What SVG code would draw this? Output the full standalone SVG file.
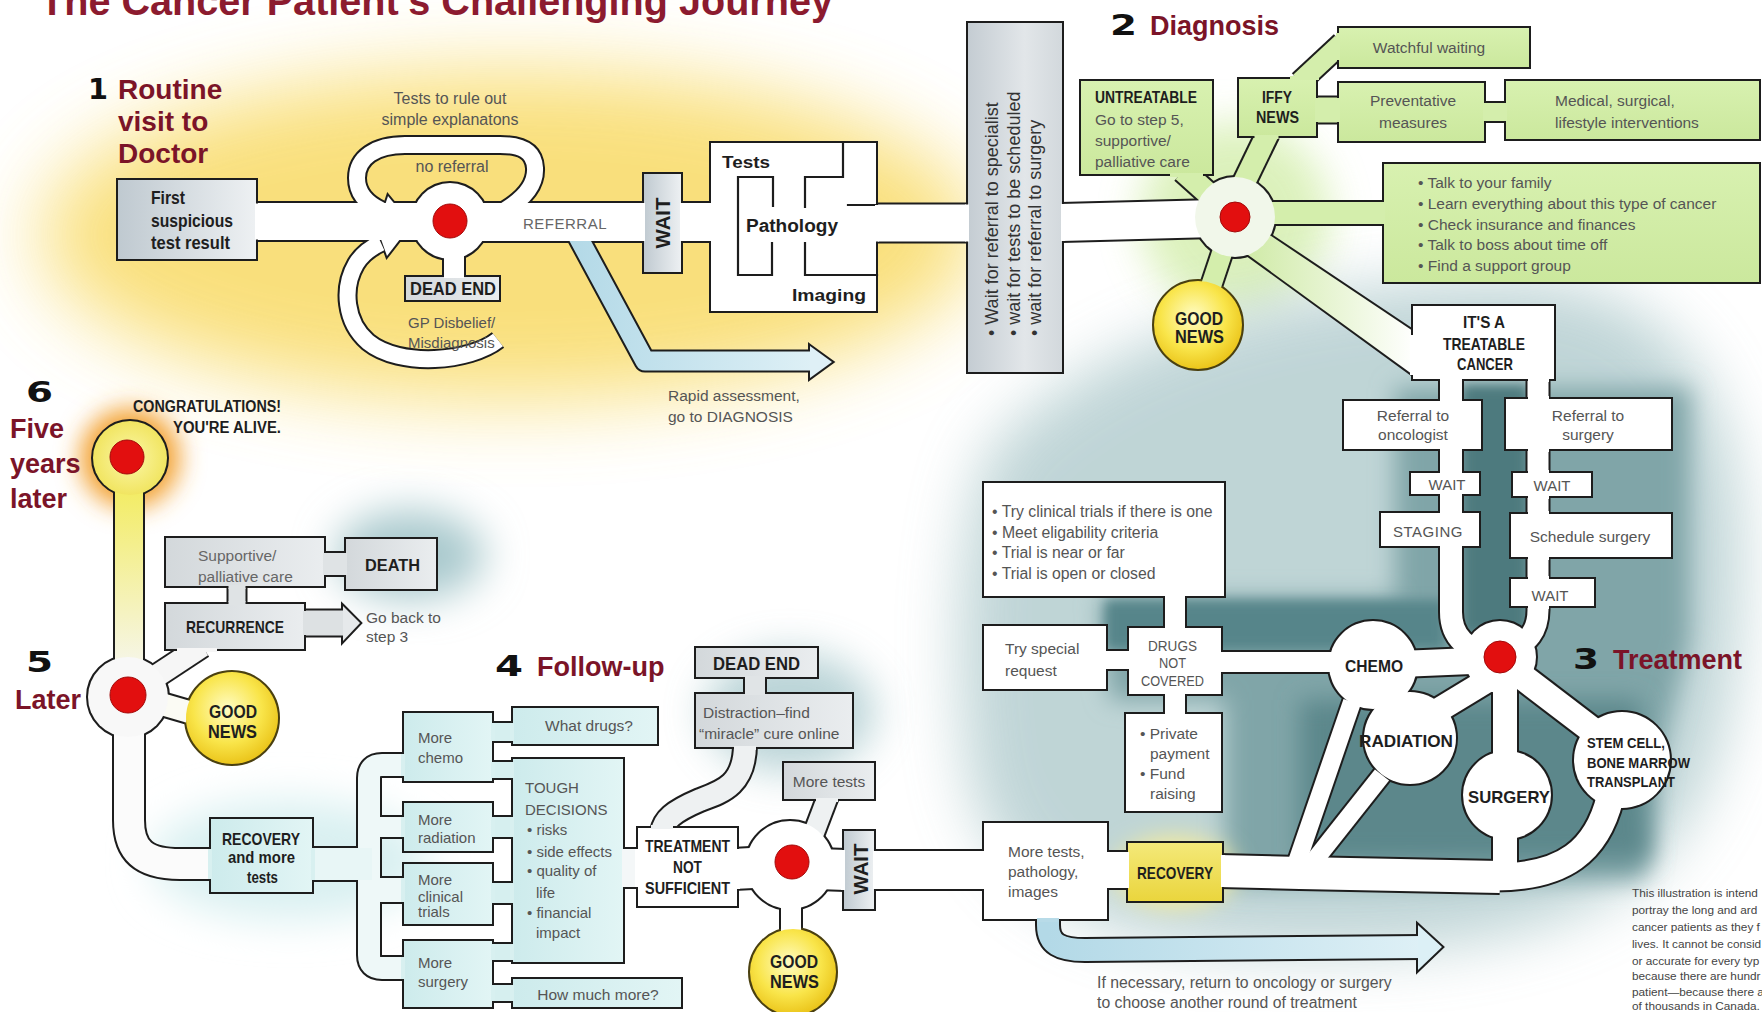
<svg xmlns="http://www.w3.org/2000/svg" width="1762" height="1012" viewBox="0 0 1762 1012">
<style>
text{font-family:"Liberation Sans",Arial,sans-serif}
.h{font-weight:bold;fill:#7b1428}
.n{font-family:"DejaVu Sans","Liberation Sans",sans-serif;font-weight:bold;fill:#111}
.bn{font-weight:bold;fill:#1e1e1e}
.r{fill:#555}
.k{fill:none;stroke:#1d1d1d;stroke-linejoin:round}
.f{fill:none;stroke-linejoin:round}
.bs{stroke:#1d1d1d;stroke-width:2}
.dot{fill:#e20f0f;stroke:#a30a0a;stroke-width:1}
.wl{fill:none;stroke:#1d1d1d;stroke-width:2.2;stroke-linecap:square}
.op{fill:#fff}
.og{fill:#d4eeac}
.oc{fill:#d8f0f0}
</style>
<defs>
<filter id="bl40" x="-50%" y="-50%" width="200%" height="200%"><feGaussianBlur stdDeviation="40"/></filter>
<filter id="bl30" x="-50%" y="-50%" width="200%" height="200%"><feGaussianBlur stdDeviation="30"/></filter>
<filter id="bl20" x="-50%" y="-50%" width="200%" height="200%"><feGaussianBlur stdDeviation="20"/></filter>
<filter id="bl12" x="-50%" y="-50%" width="200%" height="200%"><feGaussianBlur stdDeviation="12"/></filter>
<filter id="bl6" x="-50%" y="-50%" width="200%" height="200%"><feGaussianBlur stdDeviation="6"/></filter>
<linearGradient id="gGray" x1="0" y1="0" x2="1" y2="0"><stop offset="0" stop-color="#bfc9d0"/><stop offset="1" stop-color="#eef1f3"/></linearGradient>
<linearGradient id="gTall" x1="0" y1="0" x2="1" y2="0"><stop offset="0" stop-color="#c4ccd2"/><stop offset=".6" stop-color="#e2e6e9"/><stop offset="1" stop-color="#d2d8dc"/></linearGradient>
<linearGradient id="gLG" x1="0" y1="0" x2="1" y2="0"><stop offset="0" stop-color="#d3d8db"/><stop offset="1" stop-color="#eaedef"/></linearGradient>
<linearGradient id="gGreen" x1="0" y1="0" x2="0" y2="1"><stop offset="0" stop-color="#d8f1b0"/><stop offset="1" stop-color="#cbe89d"/></linearGradient>
<linearGradient id="gCyan" x1="0" y1="0" x2="1" y2="0"><stop offset="0" stop-color="#cdebec"/><stop offset="1" stop-color="#e2f5f5"/></linearGradient>
<linearGradient id="gYel" x1="0" y1="0" x2="0" y2="1"><stop offset="0" stop-color="#f4e97a"/><stop offset="1" stop-color="#ead53c"/></linearGradient>
<radialGradient id="gGood" cx=".45" cy=".4" r=".62"><stop offset="0" stop-color="#fffcc4"/><stop offset=".6" stop-color="#f9e54a"/><stop offset="1" stop-color="#eac318"/></radialGradient>
<radialGradient id="gFive" cx=".5" cy=".5" r=".55"><stop offset="0" stop-color="#fbf7a8"/><stop offset="1" stop-color="#f0e35a"/></radialGradient>
<linearGradient id="gStem" gradientUnits="userSpaceOnUse" x1="0" y1="490" x2="0" y2="670"><stop offset="0" stop-color="#f3ec64"/><stop offset="1" stop-color="#f6f6ec"/></linearGradient>
<linearGradient id="gBlue" x1="0" y1="0" x2="1" y2="0"><stop offset="0" stop-color="#b3d9e7"/><stop offset="1" stop-color="#def0f6"/></linearGradient>
<linearGradient id="gWedge" x1="0" y1="0" x2="1" y2="0"><stop offset="0" stop-color="#cfeaa6"/><stop offset="1" stop-color="#ffffff"/></linearGradient>

<path id="cA" d="M 250 221.5 L 450 221.5"/>
<path id="cB" d="M 450 222 L 645 222"/>
<path id="cC" d="M 680 222 L 715 222"/>
<path id="cD" d="M 870 223 L 969 223"/>
<path id="cE" d="M 1061 222.5 L 1235 218"/>
<path id="lp1" d="M 505 210 C 525 198, 536 185, 535 168 C 534 150, 520 145, 500 145 L 405 145 C 375 145, 357 158, 357 178 C 357 193, 366 203, 381 210"/>
<path id="lp2" d="M 498 340 C 470 362, 400 368, 368 342 C 345 322, 342 288, 356 264 C 362 254, 370 248, 381 243"/>
<path id="cDE" d="M 454 240 L 454 278"/>
<path id="rap" d="M 570 222 L 645 361 L 814 361"/>
<path id="g1" d="M 1222 206 L 1183 171"/>
<path id="g2" d="M 1238 195 L 1268 133"/>
<path id="g3" d="M 1300 82 L 1342 43"/>
<path id="g4" d="M 1314 110 L 1341 110"/>
<path id="g5" d="M 1482 112 L 1508 112"/>
<path id="g6" d="M 1235 213 L 1386 213"/>
<path id="g7" d="M 1228 235 L 1211 286"/>
<polygon id="wedge" points="1262,230 1416,333 1416,377 1244,252"/>
<path id="t1" d="M 1451 374 L 1451 612 C 1451 638, 1468 650, 1490 655"/>
<path id="t2" d="M 1538 374 L 1538 610 C 1538 632, 1527 642, 1512 650"/>
<path id="t3" d="M 1495 660 L 1400 664"/>
<path id="t4" d="M 1218 662 L 1340 662"/>
<path id="t5" d="M 1488 680 L 1432 714"/>
<path id="t6" d="M 1505 680 L 1505 760"/>
<path id="t7" d="M 1505 830 L 1505 878"/>
<path id="t8" d="M 1520 675 L 1592 730"/>
<path id="t9" d="M 1610 798 C 1597 850, 1565 877, 1495 877"/>
<path id="t10" d="M 1219 871 L 1300 873 L 1500 877"/>
<path id="t11" d="M 1352 702 L 1297 862"/>
<path id="t12" d="M 1382 775 L 1310 866"/>
<path id="t13" d="M 1175 592 L 1175 632"/>
<path id="t14" d="M 1102 660 L 1133 660"/>
<path id="t15" d="M 1175 690 L 1175 718"/>
<path id="t16" d="M 1104 870 L 1131 870"/>
<path id="t17" d="M 873 870 L 988 870"/>
<path id="ret" d="M 1048 915 L 1048 925 C 1048 944, 1060 950, 1085 950 L 1422 947"/>
<path id="f1" d="M 733 869 L 790 866"/>
<path id="f2" d="M 790 868 L 846 870"/>
<path id="f3" d="M 621 868 L 642 868"/>
<path id="f4" d="M 745 744 C 745 785, 722 792, 700 800 C 672 812, 664 820, 662 832"/>
<path id="f5" d="M 755 674 L 755 697"/>
<path id="f6" d="M 812 838 L 828 796"/>
<path id="f7" d="M 791 900 L 791 932"/>
<path id="n1" d="M 489 732 L 516 732"/>
<path id="n2" d="M 489 770 L 516 770"/>
<path id="n3" d="M 489 827 L 516 827"/>
<path id="n4" d="M 489 893 L 516 893"/>
<path id="n5" d="M 489 952 L 516 952"/>
<path id="n6" d="M 489 993 L 516 993"/>
<path id="k1" d="M 407 765 L 382 765 Q 369 765 369 778 L 369 955 Q 369 968 382 968 L 407 968"/>
<path id="k3" d="M 369 827 L 407 827"/>
<path id="k4" d="M 369 890 L 407 890"/>
<path id="k0" d="M 310 864 L 372 864"/>
<path id="l1" d="M 129 720 L 129 820 C 129 852, 145 864, 180 864 L 213 864"/>
<path id="l2" d="M 158 703 L 189 712"/>
<path id="l3" d="M 202 646 L 158 675"/>
<path id="stem" d="M 129 488 L 129 668"/>
<path id="s1" d="M 322 564 L 348 564"/>
<path id="s2" d="M 237 584 L 237 606"/>
<path id="s3" d="M 302 623 L 346 623"/>
<circle id="hub1" cx="450" cy="221" r="38"/>
<circle id="hubD" cx="1235" cy="217" r="40"/>
<circle id="hub3" cx="1500" cy="657" r="36"/>
<circle id="hub4" cx="790" cy="865" r="44"/>
<circle id="hubL" cx="128" cy="697" r="40"/>
<circle id="five" cx="130" cy="458" r="37"/>
<circle id="goodD" cx="1198" cy="325" r="44"/>
<circle id="goodL" cx="232" cy="718" r="46"/>
<circle id="good4" cx="793" cy="972" r="43"/>
<circle id="cChemo" cx="1373" cy="665" r="44"/>
<circle id="cRad" cx="1410" cy="738" r="46"/>
<circle id="cSurg" cx="1507" cy="795" r="44"/>
<circle id="cStem" cx="1622" cy="760" r="48"/>
<polygon id="ah1" points="810,346 832,362 810,378"/>
<polygon id="ah2" points="1418,925 1442,947 1418,970"/>
<polygon id="ah3" points="343,606 360,623 343,641"/>
<polygon id="aL1" points="406,218 388,196 379,224"/>
<polygon id="aL2" points="404,234 377,228 387,256"/>
</defs>

<rect width="1762" height="1012" fill="#fff"/>

<g id="glows">
<ellipse cx="510" cy="235" rx="470" ry="165" fill="#f8d85c" opacity="0.8" filter="url(#bl40)"/>
<circle cx="1235" cy="217" r="95" fill="#d6efb0" opacity="0.85" filter="url(#bl20)"/>
<path d="M 990 450 C 1100 330, 1300 280, 1500 280 C 1700 280, 1750 420, 1740 600 C 1730 800, 1680 930, 1400 950 C 1150 965, 1000 920, 970 780 C 950 650, 960 520, 990 450 Z" fill="#b0cbcd" opacity="0.8" filter="url(#bl30)"/>
<path d="M 1100 598 L 1395 598 L 1395 388 L 1690 388 L 1690 640 L 1660 760 L 1645 880 L 1225 885 L 1225 700 L 1110 700 Z" fill="#80a5a8" filter="url(#bl12)"/>
<rect x="1462" y="385" width="66" height="250" fill="#4d7a7e" filter="url(#bl6)"/>
<path d="M 1105 600 L 1445 600 L 1445 650 L 1105 650 Z" fill="#56858a" filter="url(#bl6)"/>
<path d="M 1300 700 L 1640 700 L 1650 860 L 1300 862 Z" fill="#5b878b" filter="url(#bl12)"/>
<ellipse cx="410" cy="555" rx="75" ry="45" fill="#a9c9cd" filter="url(#bl20)"/>
<ellipse cx="790" cy="712" rx="85" ry="60" fill="#a9c9cd" opacity="0.8" filter="url(#bl20)"/>
<ellipse cx="290" cy="860" rx="140" ry="60" fill="#d9f0f1" filter="url(#bl20)"/>
<ellipse cx="1175" cy="872" rx="60" ry="35" fill="#f7ec9a" filter="url(#bl12)"/>
<circle cx="130" cy="458" r="50" fill="#f3a233" filter="url(#bl12)"/>
</g>

<g id="connectors">
<g id="walls">
<use href="#cA" class="k" stroke-width="41"/>
<use href="#cB" class="k" stroke-width="42"/>
<use href="#cC" class="k" stroke-width="42"/>
<use href="#cD" class="k" stroke-width="41"/>
<use href="#cE" class="k" stroke-width="41"/>
<use href="#lp1" class="k" stroke-width="20"/>
<use href="#lp2" class="k" stroke-width="20"/>
<use href="#cDE" class="k" stroke-width="24"/>
<use href="#rap" class="k" stroke-width="23"/>
<use href="#g1" class="k" stroke-width="26"/>
<use href="#g2" class="k" stroke-width="26"/>
<use href="#g3" class="k" stroke-width="24"/>
<use href="#g4" class="k" stroke-width="29"/>
<use href="#g5" class="k" stroke-width="22"/>
<use href="#g6" class="k" stroke-width="26"/>
<use href="#g7" class="k" stroke-width="24"/>
<use href="#wedge" fill="#1d1d1d" stroke="#1d1d1d" stroke-width="4"/>
<use href="#t1" class="k" stroke-width="26"/>
<use href="#t2" class="k" stroke-width="25"/>
<use href="#t3" class="k" stroke-width="30"/>
<use href="#t4" class="k" stroke-width="24"/>
<use href="#t5" class="k" stroke-width="28"/>
<use href="#t6" class="k" stroke-width="28"/>
<use href="#t7" class="k" stroke-width="28"/>
<use href="#t8" class="k" stroke-width="30"/>
<use href="#t9" class="k" stroke-width="31"/>
<use href="#t10" class="k" stroke-width="36"/>
<use href="#t11" class="k" stroke-width="22"/>
<use href="#t12" class="k" stroke-width="22"/>
<use href="#t13" class="k" stroke-width="24"/>
<use href="#t14" class="k" stroke-width="22"/>
<use href="#t15" class="k" stroke-width="24"/>
<use href="#t16" class="k" stroke-width="40"/>
<use href="#t17" class="k" stroke-width="42"/>
<use href="#ret" class="k" stroke-width="26"/>
<use href="#f1" class="k" stroke-width="44"/>
<use href="#f2" class="k" stroke-width="44"/>
<use href="#f3" class="k" stroke-width="42"/>
<use href="#f4" class="k" stroke-width="26"/>
<use href="#f5" class="k" stroke-width="24"/>
<use href="#f6" class="k" stroke-width="24"/>
<use href="#f7" class="k" stroke-width="24"/>
<use href="#n1" class="k" stroke-width="22"/>
<use href="#n2" class="k" stroke-width="20"/>
<use href="#n3" class="k" stroke-width="24"/>
<use href="#n4" class="k" stroke-width="24"/>
<use href="#n5" class="k" stroke-width="20"/>
<use href="#n6" class="k" stroke-width="20"/>
<use href="#k1" class="k" stroke-width="26"/>
<use href="#k3" class="k" stroke-width="24"/>
<use href="#k4" class="k" stroke-width="28"/>
<use href="#k0" class="k" stroke-width="36"/>
<use href="#l1" class="k" stroke-width="34"/>
<use href="#l2" class="k" stroke-width="26"/>
<use href="#l3" class="k" stroke-width="26"/>
<use href="#stem" class="k" stroke-width="32"/>
<use href="#s1" class="k" stroke-width="26"/>
<use href="#s2" class="k" stroke-width="21"/>
<use href="#s3" class="k" stroke-width="29"/>
<use href="#hub1" fill="#1d1d1d" stroke="#1d1d1d" stroke-width="4"/>
<use href="#hubD" fill="#1d1d1d" stroke="#1d1d1d" stroke-width="4"/>
<use href="#hub3" fill="#1d1d1d" stroke="#1d1d1d" stroke-width="4"/>
<use href="#hub4" fill="#1d1d1d" stroke="#1d1d1d" stroke-width="4"/>
<use href="#hubL" fill="#1d1d1d" stroke="#1d1d1d" stroke-width="4"/>
<use href="#five" fill="#1d1d1d" stroke="#1d1d1d" stroke-width="4"/>
<use href="#goodD" fill="#4a4010" stroke="#4a4010" stroke-width="4"/>
<use href="#goodL" fill="#4a4010" stroke="#4a4010" stroke-width="4"/>
<use href="#good4" fill="#4a4010" stroke="#4a4010" stroke-width="4"/>
<use href="#cChemo" fill="#1d1d1d" stroke="#1d1d1d" stroke-width="4"/>
<use href="#cRad" fill="#1d1d1d" stroke="#1d1d1d" stroke-width="4"/>
<use href="#cSurg" fill="#1d1d1d" stroke="#1d1d1d" stroke-width="4"/>
<use href="#cStem" fill="#1d1d1d" stroke="#1d1d1d" stroke-width="4"/>
<use href="#ah1" fill="#1d1d1d" stroke="#1d1d1d" stroke-width="4"/>
<use href="#ah2" fill="#1d1d1d" stroke="#1d1d1d" stroke-width="4"/>
<use href="#ah3" fill="#1d1d1d" stroke="#1d1d1d" stroke-width="4"/>
<use href="#aL1" fill="#1d1d1d" stroke="#1d1d1d" stroke-width="4"/>
<use href="#aL2" fill="#1d1d1d" stroke="#1d1d1d" stroke-width="4"/>
</g>
<g id="lanes">
<use href="#lp1" class="f" stroke="#fff" stroke-width="16"/>
<use href="#lp2" class="f" stroke="#fff" stroke-width="16"/>
<use href="#rap" class="f" stroke="url(#gBlue)" stroke-width="19"/>
<use href="#ah1" fill="#dff0f6"/>
<use href="#cDE" class="f" stroke="#fff" stroke-width="20"/>
<use href="#cA" class="f" stroke="#fff" stroke-width="37"/>
<use href="#cB" class="f" stroke="#fff" stroke-width="38"/>
<use href="#cC" class="f" stroke="#fff" stroke-width="38"/>
<use href="#cD" class="f" stroke="#fff" stroke-width="37"/>
<use href="#cE" class="f" stroke="#fff" stroke-width="37"/>
<use href="#g1" class="f" stroke="#d4eeac" stroke-width="22"/>
<use href="#g2" class="f" stroke="#d4eeac" stroke-width="22"/>
<use href="#g3" class="f" stroke="#d4eeac" stroke-width="20"/>
<use href="#g4" class="f" stroke="#d4eeac" stroke-width="25"/>
<use href="#g5" class="f" stroke="#d4eeac" stroke-width="18"/>
<use href="#g6" class="f" stroke="#d4eeac" stroke-width="22"/>
<use href="#g7" class="f" stroke="#d4eeac" stroke-width="20"/>
<use href="#wedge" fill="url(#gWedge)"/>
<use href="#t1" class="f" stroke="#fff" stroke-width="22"/>
<use href="#t2" class="f" stroke="#fff" stroke-width="21"/>
<use href="#t3" class="f" stroke="#fff" stroke-width="26"/>
<use href="#t4" class="f" stroke="#fff" stroke-width="20"/>
<use href="#t5" class="f" stroke="#fff" stroke-width="24"/>
<use href="#t6" class="f" stroke="#fff" stroke-width="24"/>
<use href="#t7" class="f" stroke="#fff" stroke-width="24"/>
<use href="#t8" class="f" stroke="#fff" stroke-width="26"/>
<use href="#t9" class="f" stroke="#fff" stroke-width="27"/>
<use href="#t11" class="f" stroke="#fff" stroke-width="18"/>
<use href="#t12" class="f" stroke="#fff" stroke-width="18"/>
<use href="#t10" class="f" stroke="#fff" stroke-width="32"/>
<use href="#t13" class="f" stroke="#fff" stroke-width="20"/>
<use href="#t14" class="f" stroke="#fff" stroke-width="18"/>
<use href="#t15" class="f" stroke="#fff" stroke-width="20"/>
<use href="#t16" class="f" stroke="#fff" stroke-width="36"/>
<use href="#t17" class="f" stroke="#fff" stroke-width="38"/>
<use href="#ret" class="f" stroke="url(#gBlue)" stroke-width="22"/>
<use href="#ah2" fill="#dcf0f6"/>
<use href="#f1" class="f" stroke="#fff" stroke-width="40"/>
<use href="#f2" class="f" stroke="#fff" stroke-width="40"/>
<use href="#f3" class="f" stroke="#f4f7f8" stroke-width="38"/>
<use href="#f4" class="f" stroke="#eef1f2" stroke-width="22"/>
<use href="#f5" class="f" stroke="#e0e4e6" stroke-width="20"/>
<use href="#f6" class="f" stroke="#eef1f2" stroke-width="20"/>
<use href="#f7" class="f" stroke="#fff" stroke-width="20"/>
<use href="#n1" class="f" stroke="#d6efef" stroke-width="18"/>
<use href="#n2" class="f" stroke="#d6efef" stroke-width="16"/>
<use href="#n3" class="f" stroke="#d6efef" stroke-width="20"/>
<use href="#n4" class="f" stroke="#d6efef" stroke-width="20"/>
<use href="#n5" class="f" stroke="#d6efef" stroke-width="16"/>
<use href="#n6" class="f" stroke="#d6efef" stroke-width="16"/>
<use href="#k1" class="f" stroke="#eef8f8" stroke-width="22"/>
<use href="#k3" class="f" stroke="#eef8f8" stroke-width="20"/>
<use href="#k4" class="f" stroke="#eef8f8" stroke-width="24"/>
<use href="#k0" class="f" stroke="#e8f6f6" stroke-width="32"/>
<use href="#l1" class="f" stroke="#fbfbfb" stroke-width="30"/>
<use href="#l2" class="f" stroke="#fbfbf4" stroke-width="22"/>
<use href="#l3" class="f" stroke="#f6f6f6" stroke-width="22"/>
<use href="#stem" class="f" stroke="url(#gStem)" stroke-width="28"/>
<use href="#s1" class="f" stroke="#dfe3e5" stroke-width="22"/>
<use href="#s2" class="f" stroke="#dfe3e5" stroke-width="17"/>
<use href="#s3" class="f" stroke="#dde1e3" stroke-width="25"/>
<use href="#ah3" fill="#e6e9eb"/>
<use href="#aL1" fill="#fff"/>
<use href="#aL2" fill="#fff"/>
<use href="#hub1" fill="#fff"/>
<use href="#hubD" fill="#f1f7ea"/>
<use href="#hub3" fill="#fff"/>
<use href="#hub4" fill="#fff"/>
<use href="#hubL" fill="#f8f8f8"/>
<use href="#five" fill="url(#gFive)"/>
<use href="#goodD" fill="url(#gGood)"/>
<use href="#goodL" fill="url(#gGood)"/>
<use href="#good4" fill="url(#gGood)"/>
<use href="#cChemo" fill="#fff"/>
<use href="#cRad" fill="#fff"/>
<use href="#cSurg" fill="#fff"/>
<use href="#cStem" fill="#fff"/>
</g>
</g>

<g id="nodes">
<g id="n-first"><rect x="117" y="179" width="140" height="81" fill="url(#gGray)" class="bs"/>
<text class="bn" font-size="18" x="151" y="204" textLength="34" lengthAdjust="spacingAndGlyphs">First</text>
<text class="bn" font-size="18" x="151" y="227" textLength="82" lengthAdjust="spacingAndGlyphs">suspicious</text>
<text class="bn" font-size="18" x="151" y="249" textLength="79" lengthAdjust="spacingAndGlyphs">test result</text></g>
<g id="n-hub1"><circle class="dot" cx="450" cy="221" r="17"/></g>
<g id="n-dead1"><rect x="405" y="276" width="95" height="25" fill="url(#gLG)" class="bs"/>
<text class="bn" font-size="18" x="410" y="295" textLength="86" lengthAdjust="spacingAndGlyphs">DEAD END</text></g>
<g id="n-wait1"><rect x="643" y="173" width="39" height="100" fill="url(#gGray)" class="bs"/>
<text class="bn" font-size="21" transform="translate(670 248.5) rotate(-90)" textLength="51" lengthAdjust="spacingAndGlyphs">WAIT</text></g>
<g id="n-tests"><rect x="710" y="142" width="167" height="170" fill="#fff" class="bs"/>
<path class="wl" d="M 843 142 L 843 177 L 805 177 L 805 207 M 773 206 L 773 177 L 738 177 L 738 275 L 772 275 L 772 243 M 805 243 L 805 275 L 877 275 M 848 205 L 877 205"/>
<text class="bn" font-size="17" x="722" y="168" textLength="48" lengthAdjust="spacingAndGlyphs">Tests</text>
<text class="bn" font-size="18" x="746" y="232" textLength="92" lengthAdjust="spacingAndGlyphs">Pathology</text>
<text class="bn" font-size="17" x="792" y="301" textLength="74" lengthAdjust="spacingAndGlyphs">Imaging</text></g>
<g id="n-tall"><rect x="967" y="22" width="96" height="351" fill="url(#gTall)" class="bs"/>
<text class="r" font-size="18" style="fill:#333" transform="translate(998 336) rotate(-90)">• Wait for referral to specialist</text>
<text class="r" font-size="18" style="fill:#333" transform="translate(1020 336) rotate(-90)">• wait for tests to be scheduled</text>
<text class="r" font-size="18" style="fill:#333" transform="translate(1041 336) rotate(-90)">• wait for referral to surgery</text></g>

<g id="n-hubD"><circle class="dot" cx="1235" cy="217" r="15"/></g>
<g id="n-untr"><rect x="1080" y="80" width="133" height="95" fill="url(#gGreen)" class="bs"/>
<text class="bn" font-size="16" x="1095" y="103" textLength="102" lengthAdjust="spacingAndGlyphs">UNTREATABLE</text>
<text class="r" font-size="15.5"><tspan x="1095" y="125">Go to step 5,</tspan><tspan x="1095" y="146">supportive/</tspan><tspan x="1095" y="167">palliative care</tspan></text></g>
<g id="n-iffy"><rect x="1238" y="78" width="79" height="59" fill="url(#gGreen)" class="bs"/>
<text class="bn" font-size="16" x="1262" y="103" textLength="30" lengthAdjust="spacingAndGlyphs">IFFY</text>
<text class="bn" font-size="16" x="1256" y="123" textLength="43" lengthAdjust="spacingAndGlyphs">NEWS</text></g>
<g id="n-watch"><rect x="1338" y="27" width="192" height="41" fill="url(#gGreen)" class="bs"/>
<text class="r" font-size="15.5" x="1429" y="53" text-anchor="middle">Watchful waiting</text></g>
<g id="n-prev"><rect x="1338" y="82" width="147" height="60" fill="url(#gGreen)" class="bs"/>
<text class="r" font-size="15.5" text-anchor="middle"><tspan x="1413" y="106">Preventative</tspan><tspan x="1413" y="128">measures</tspan></text></g>
<g id="n-med"><rect x="1505" y="80" width="255" height="60" fill="url(#gGreen)" class="bs"/>
<text class="r" font-size="15.5"><tspan x="1555" y="106">Medical, surgical,</tspan><tspan x="1555" y="128">lifestyle interventions</tspan></text></g>
<g id="n-list"><rect x="1383" y="163" width="377" height="120" fill="url(#gGreen)" class="bs"/>
<text class="r" font-size="15.5"><tspan x="1418" y="188">• Talk to your family</tspan><tspan x="1418" y="209">• Learn everything about this type of cancer</tspan><tspan x="1418" y="230">• Check insurance and finances</tspan><tspan x="1418" y="250">• Talk to boss about time off</tspan><tspan x="1418" y="271">• Find a support group</tspan></text></g>
<g id="n-goodD">
<text class="bn" font-size="19" x="1175" y="325" textLength="48" lengthAdjust="spacingAndGlyphs">GOOD</text>
<text class="bn" font-size="19" x="1175" y="343" textLength="49" lengthAdjust="spacingAndGlyphs">NEWS</text></g>
<g id="n-treat"><rect x="1412" y="305" width="143" height="75" fill="#fff" class="bs"/>
<text class="bn" font-size="17" x="1463" y="328" textLength="42" lengthAdjust="spacingAndGlyphs">IT'S A</text>
<text class="bn" font-size="17" x="1443" y="350" textLength="82" lengthAdjust="spacingAndGlyphs">TREATABLE</text>
<text class="bn" font-size="17" x="1457" y="370" textLength="56" lengthAdjust="spacingAndGlyphs">CANCER</text></g>
<g id="n-refonc"><rect x="1343" y="400" width="139" height="50" fill="#fff" class="bs"/>
<text class="r" font-size="15.5" text-anchor="middle"><tspan x="1413" y="421">Referral to</tspan><tspan x="1413" y="440">oncologist</tspan></text></g>
<g id="n-refsurg"><rect x="1505" y="398" width="167" height="52" fill="#fff" class="bs"/>
<text class="r" font-size="15.5" text-anchor="middle"><tspan x="1588" y="421">Referral to</tspan><tspan x="1588" y="440">surgery</tspan></text></g>
<g id="n-waitl"><rect x="1410" y="472" width="70" height="23" fill="#fff" class="bs"/>
<text class="r" font-size="15" x="1447" y="490" text-anchor="middle">WAIT</text></g>
<g id="n-waitr"><rect x="1512" y="472" width="80" height="25" fill="#fff" class="bs"/>
<text class="r" font-size="15" x="1552" y="491" text-anchor="middle">WAIT</text></g>
<g id="n-staging"><rect x="1380" y="512" width="100" height="35" fill="#fff" class="bs"/>
<text class="r" font-size="15" letter-spacing="0.5" x="1428" y="537" text-anchor="middle">STAGING</text></g>
<g id="n-sched"><rect x="1510" y="513" width="162" height="45" fill="#fff" class="bs"/>
<text class="r" font-size="15.5" x="1590" y="542" text-anchor="middle">Schedule surgery</text></g>
<g id="n-waitlow"><rect x="1510" y="578" width="85" height="29" fill="#fff" class="bs"/>
<text class="r" font-size="15" x="1550" y="601" text-anchor="middle">WAIT</text></g>
<g id="n-hub3"><circle class="dot" cx="1500" cy="657" r="16"/></g>
<g id="n-chemo"><text class="bn" font-size="17" x="1345" y="672" textLength="58" lengthAdjust="spacingAndGlyphs">CHEMO</text></g>
<g id="n-rad"><text class="bn" font-size="17" x="1359" y="747" textLength="94" lengthAdjust="spacingAndGlyphs">RADIATION</text></g>
<g id="n-surg"><text class="bn" font-size="17" x="1468" y="803" textLength="82" lengthAdjust="spacingAndGlyphs">SURGERY</text></g>
<g id="n-stem">
<text class="bn" font-size="15.5" x="1587" y="748" textLength="78" lengthAdjust="spacingAndGlyphs">STEM CELL,</text>
<text class="bn" font-size="15.5" x="1587" y="768" textLength="103" lengthAdjust="spacingAndGlyphs">BONE MARROW</text>
<text class="bn" font-size="15.5" x="1587" y="787" textLength="88" lengthAdjust="spacingAndGlyphs">TRANSPLANT</text></g>
<g id="n-clin"><rect x="983" y="482" width="242" height="115" fill="#fff" class="bs"/>
<text class="r" font-size="15.8"><tspan x="992" y="517">• Try clinical trials if there is one</tspan><tspan x="992" y="538">• Meet eligability criteria</tspan><tspan x="992" y="558">• Trial is near or far</tspan><tspan x="992" y="579">• Trial is open or closed</tspan></text></g>
<g id="n-special"><rect x="983" y="625" width="124" height="65" fill="#fff" class="bs"/>
<text class="r" font-size="15.5"><tspan x="1005" y="654">Try special</tspan><tspan x="1005" y="676">request</tspan></text></g>
<g id="n-drugs"><rect x="1128" y="627" width="94" height="68" fill="#fff" class="bs"/>
<text class="r" font-size="15.5" x="1148" y="651" textLength="49" lengthAdjust="spacingAndGlyphs">DRUGS</text>
<text class="r" font-size="15.5" x="1159" y="668" textLength="27" lengthAdjust="spacingAndGlyphs">NOT</text>
<text class="r" font-size="15.5" x="1141" y="686" textLength="63" lengthAdjust="spacingAndGlyphs">COVERED</text></g>
<g id="n-priv"><rect x="1125" y="713" width="97" height="99" fill="#fff" class="bs"/>
<text class="r" font-size="15.5"><tspan x="1140" y="739">• Private</tspan><tspan x="1150" y="759">payment</tspan><tspan x="1140" y="779">• Fund</tspan><tspan x="1150" y="799">raising</tspan></text></g>
<g id="n-moretests3"><rect x="983" y="822" width="125" height="98" fill="#fff" class="bs"/>
<text class="r" font-size="15.5"><tspan x="1008" y="857">More tests,</tspan><tspan x="1008" y="877">pathology,</tspan><tspan x="1008" y="897">images</tspan></text></g>
<g id="n-recov3"><rect x="1127" y="842" width="96" height="60" fill="url(#gYel)" class="bs"/>
<text class="bn" font-size="17" x="1137" y="879" textLength="76" lengthAdjust="spacingAndGlyphs">RECOVERY</text></g>

<g id="n-hub4"><circle class="dot" cx="792" cy="862" r="17"/></g>
<g id="n-dead4"><rect x="695" y="647" width="123" height="31" fill="url(#gLG)" class="bs"/>
<text class="bn" font-size="18" x="713" y="670" textLength="87" lengthAdjust="spacingAndGlyphs">DEAD END</text></g>
<g id="n-distr"><rect x="695" y="693" width="158" height="55" fill="url(#gLG)" class="bs"/>
<text class="r" font-size="15.5"><tspan x="703" y="718">Distraction–find</tspan><tspan x="699" y="739">“miracle” cure online</tspan></text></g>
<g id="n-moretests4"><rect x="783" y="762" width="92" height="38" fill="url(#gLG)" class="bs"/>
<text class="r" font-size="15.5" x="829" y="787" text-anchor="middle">More tests</text></g>
<g id="n-wait4"><rect x="843" y="830" width="32" height="80" fill="url(#gGray)" class="bs"/>
<text class="bn" font-size="21" transform="translate(868 894.5) rotate(-90)" textLength="51" lengthAdjust="spacingAndGlyphs">WAIT</text></g>
<g id="n-good4">
<text class="bn" font-size="19" x="770" y="968" textLength="48" lengthAdjust="spacingAndGlyphs">GOOD</text>
<text class="bn" font-size="19" x="770" y="988" textLength="49" lengthAdjust="spacingAndGlyphs">NEWS</text></g>
<g id="n-tns"><rect x="637" y="827" width="101" height="80" fill="#fff" class="bs"/>
<text class="bn" font-size="17" x="645" y="852" textLength="85" lengthAdjust="spacingAndGlyphs">TREATMENT</text>
<text class="bn" font-size="17" x="673" y="873" textLength="29" lengthAdjust="spacingAndGlyphs">NOT</text>
<text class="bn" font-size="17" x="645" y="894" textLength="85" lengthAdjust="spacingAndGlyphs">SUFFICIENT</text></g>
<g id="n-tough"><rect x="512" y="758" width="112" height="205" fill="url(#gCyan)" class="bs"/>
<text class="r" font-size="15"><tspan x="525" y="793">TOUGH</tspan><tspan x="525" y="815">DECISIONS</tspan><tspan x="527" y="835">• risks</tspan><tspan x="527" y="857">• side effects</tspan><tspan x="527" y="876">• quality of</tspan><tspan x="536" y="898">life</tspan><tspan x="527" y="918">• financial</tspan><tspan x="536" y="938">impact</tspan></text></g>
<g id="n-what"><rect x="512" y="707" width="146" height="38" fill="url(#gCyan)" class="bs"/>
<text class="r" font-size="15.5" x="589" y="731" text-anchor="middle">What drugs?</text></g>
<g id="n-how"><rect x="512" y="978" width="170" height="30" fill="url(#gCyan)" class="bs"/>
<text class="r" font-size="15.5" x="598" y="1000" text-anchor="middle">How much more?</text></g>
<g id="n-mchemo"><rect x="403" y="712" width="90" height="70" fill="url(#gCyan)" class="bs"/>
<text class="r" font-size="15"><tspan x="418" y="743">More</tspan><tspan x="418" y="763">chemo</tspan></text></g>
<g id="n-mrad"><rect x="403" y="802" width="90" height="50" fill="url(#gCyan)" class="bs"/>
<text class="r" font-size="15"><tspan x="418" y="825">More</tspan><tspan x="418" y="843">radiation</tspan></text></g>
<g id="n-mclin"><rect x="403" y="863" width="90" height="62" fill="url(#gCyan)" class="bs"/>
<text class="r" font-size="15"><tspan x="418" y="885">More</tspan><tspan x="418" y="902">clinical</tspan><tspan x="418" y="917">trials</tspan></text></g>
<g id="n-msurg"><rect x="403" y="940" width="90" height="68" fill="url(#gCyan)" class="bs"/>
<text class="r" font-size="15"><tspan x="418" y="968">More</tspan><tspan x="418" y="987">surgery</tspan></text></g>

<g id="n-recov5"><rect x="210" y="818" width="103" height="75" fill="url(#gCyan)" class="bs"/>
<text class="bn" font-size="17" x="222" y="845" textLength="78" lengthAdjust="spacingAndGlyphs">RECOVERY</text>
<text class="bn" font-size="17" x="228" y="863" textLength="67" lengthAdjust="spacingAndGlyphs">and more</text>
<text class="bn" font-size="17" x="247" y="883" textLength="31" lengthAdjust="spacingAndGlyphs">tests</text></g>
<g id="n-hubL"><circle class="dot" cx="128" cy="695" r="18"/></g>
<g id="n-goodL">
<text class="bn" font-size="19" x="209" y="718" textLength="48" lengthAdjust="spacingAndGlyphs">GOOD</text>
<text class="bn" font-size="19" x="208" y="738" textLength="49" lengthAdjust="spacingAndGlyphs">NEWS</text></g>
<g id="n-supp"><rect x="165" y="537" width="160" height="50" fill="url(#gLG)" class="bs"/>
<text class="r" font-size="15.5" style="fill:#666"><tspan x="198" y="561">Supportive/</tspan><tspan x="198" y="582">palliative care</tspan></text></g>
<g id="n-death"><rect x="345" y="538" width="92" height="52" fill="url(#gLG)" class="bs"/>
<text class="bn" font-size="17" x="365" y="571" textLength="55" lengthAdjust="spacingAndGlyphs">DEATH</text></g>
<g id="n-recur"><rect x="165" y="603" width="140" height="47" fill="url(#gLG)" class="bs"/>
<text class="bn" font-size="17" x="186" y="633" textLength="98" lengthAdjust="spacingAndGlyphs">RECURRENCE</text></g>
<g id="n-five"><circle class="dot" cx="127" cy="457" r="17"/></g>
</g>

<g id="openings">
<rect class="op" x="255" y="203.5" width="4" height="36"/>
<rect class="op" x="641" y="203" width="4" height="38"/>
<rect class="op" x="680" y="203" width="4" height="38"/>
<rect class="op" x="708" y="203" width="4" height="38"/>
<rect class="op" x="875" y="205" width="4" height="36.5"/>
<rect class="op" x="965" y="204.5" width="4" height="37"/>
<rect class="op" x="1061" y="204" width="4" height="37"/>
<rect class="op" x="444" y="274" width="20" height="4"/>
<rect class="og" x="1170" y="173" width="33" height="4"/>
<rect class="og" x="1254.5" y="135" width="24" height="4"/>
<rect class="og" x="1290" y="76" width="29" height="4"/>
<rect class="og" x="1336" y="33" width="4" height="27"/>
<rect class="og" x="1315" y="98" width="4" height="24"/>
<rect class="og" x="1336" y="98" width="4" height="24"/>
<rect class="og" x="1483" y="103" width="4" height="18"/>
<rect class="og" x="1503" y="103" width="4" height="18"/>
<rect class="og" x="1381" y="202" width="4" height="22"/>
<rect class="op" x="1410" y="335" width="4" height="40"/>
<rect class="op" x="1440" y="378" width="22" height="4"/>
<rect class="op" x="1528" y="378" width="21" height="4"/>
<rect class="op" x="1440" y="398" width="22" height="4"/>
<rect class="op" x="1440" y="448" width="22" height="4"/>
<rect class="op" x="1528" y="396" width="21" height="4"/>
<rect class="op" x="1528" y="448" width="21" height="4"/>
<rect class="op" x="1440" y="470" width="22" height="4"/>
<rect class="op" x="1440" y="493" width="22" height="4"/>
<rect class="op" x="1528" y="470" width="21" height="4"/>
<rect class="op" x="1528" y="495" width="21" height="4"/>
<rect class="op" x="1440" y="510" width="22" height="4"/>
<rect class="op" x="1440" y="545" width="22" height="4"/>
<rect class="op" x="1528" y="511" width="21" height="4"/>
<rect class="op" x="1528" y="556" width="21" height="4"/>
<rect class="op" x="1528" y="576" width="21" height="4"/>
<rect class="op" x="1528" y="605" width="21" height="4"/>
<rect class="op" x="1165" y="595" width="20" height="4"/>
<rect class="op" x="1165" y="625" width="20" height="4"/>
<rect class="op" x="1126" y="651" width="4" height="18"/>
<rect class="op" x="1105" y="651" width="4" height="18"/>
<rect class="op" x="1220" y="652" width="4" height="20"/>
<rect class="op" x="1165" y="693" width="20" height="4"/>
<rect class="op" x="1165" y="711" width="20" height="4"/>
<rect class="op" x="981" y="851" width="4" height="38"/>
<rect class="op" x="1106" y="852" width="4" height="36"/>
<rect x="1037" y="918" width="22" height="4" fill="#b8dbe8"/>
<rect class="op" x="1125" y="852" width="4" height="36"/>
<rect class="op" x="1221" y="855" width="4" height="32"/>
<rect class="op" x="841" y="850" width="4" height="40"/>
<rect class="op" x="873" y="851" width="4" height="38"/>
<rect x="816" y="798" width="22" height="4" fill="#eef1f2"/>
<rect class="op" x="635" y="849" width="4" height="38"/>
<rect class="op" x="736" y="849" width="4" height="40"/>
<rect x="651" y="825" width="22" height="4" fill="#eef1f2"/>
<rect x="745" y="691" width="20" height="4" fill="#e0e4e6"/>
<rect x="734" y="746" width="22" height="4" fill="#eef1f2"/>
<rect x="745" y="676" width="20" height="4" fill="#e0e4e6"/>
<rect x="622" y="849" width="4" height="38" fill="#f4f7f8"/>
<rect class="oc" x="491" y="723" width="4" height="18"/>
<rect class="oc" x="510" y="723" width="4" height="18"/>
<rect class="oc" x="491" y="762" width="4" height="16"/>
<rect class="oc" x="510" y="762" width="4" height="16"/>
<rect class="oc" x="491" y="817" width="4" height="20"/>
<rect class="oc" x="510" y="817" width="4" height="20"/>
<rect class="oc" x="491" y="883" width="4" height="20"/>
<rect class="oc" x="510" y="883" width="4" height="20"/>
<rect class="oc" x="491" y="944" width="4" height="16"/>
<rect class="oc" x="510" y="944" width="4" height="16"/>
<rect class="oc" x="491" y="985" width="4" height="16"/>
<rect class="oc" x="510" y="985" width="4" height="16"/>
<rect class="oc" x="401" y="754" width="4" height="22"/>
<rect class="oc" x="401" y="817" width="4" height="20"/>
<rect class="oc" x="401" y="878" width="4" height="24"/>
<rect class="oc" x="401" y="957" width="4" height="22"/>
<rect class="oc" x="208" y="849" width="4" height="30"/>
<rect class="oc" x="311" y="848" width="4" height="32"/>
<rect x="323" y="553" width="4" height="22" fill="#dfe3e5"/>
<rect x="343" y="553" width="4" height="22" fill="#dfe3e5"/>
<rect x="228.5" y="585" width="17" height="4" fill="#dfe3e5"/>
<rect x="228.5" y="601" width="17" height="4" fill="#dfe3e5"/>
<rect x="303" y="611" width="4" height="24" fill="#dde1e3"/>
<rect x="177" y="648" width="40" height="4" fill="#f6f6f6"/>
</g>

<g id="labels">
<text x="40" y="15" font-size="40" font-weight="bold" fill="#8c1b2f" textLength="793" lengthAdjust="spacingAndGlyphs">The Cancer Patient’s Challenging Journey</text>
<text class="n" font-size="28" x="88" y="99" textLength="20" lengthAdjust="spacingAndGlyphs">1</text>
<text class="h" font-size="28"><tspan x="118" y="99">Routine</tspan><tspan x="118" y="131">visit to</tspan><tspan x="118" y="163">Doctor</tspan></text>
<text class="r" font-size="16" text-anchor="middle"><tspan x="450" y="104">Tests to rule out</tspan><tspan x="450" y="125">simple explanatons</tspan></text>
<text class="r" font-size="16" x="452" y="172" text-anchor="middle">no referral</text>
<text class="r" font-size="15" letter-spacing="0.5" x="523" y="229" style="fill:#666">REFERRAL</text>
<text class="r" font-size="15"><tspan x="408" y="328">GP Disbelief/</tspan><tspan x="408" y="348">Misdiagnosis</tspan></text>
<text class="r" font-size="15.5"><tspan x="668" y="401">Rapid assessment,</tspan><tspan x="668" y="422">go to DIAGNOSIS</tspan></text>
<text class="n" font-size="28" x="1110" y="35" textLength="27" lengthAdjust="spacingAndGlyphs">2</text>
<text class="h" font-size="27" x="1150" y="35">Diagnosis</text>
<text class="n" font-size="28" x="1573" y="669" textLength="26" lengthAdjust="spacingAndGlyphs">3</text>
<text class="h" font-size="27" x="1613" y="669">Treatment</text>
<text class="n" font-size="28" x="495" y="676" textLength="28" lengthAdjust="spacingAndGlyphs">4</text>
<text class="h" font-size="27" x="537" y="676">Follow-up</text>
<text class="n" font-size="28" x="26" y="672" textLength="27" lengthAdjust="spacingAndGlyphs">5</text>
<text class="h" font-size="27" x="15" y="709">Later</text>
<text class="n" font-size="28" x="26" y="402" textLength="27" lengthAdjust="spacingAndGlyphs">6</text>
<text class="h" font-size="27"><tspan x="10" y="438">Five</tspan><tspan x="10" y="473">years</tspan><tspan x="10" y="508">later</tspan></text>
<text class="bn" font-size="16" x="133" y="412" textLength="148" lengthAdjust="spacingAndGlyphs">CONGRATULATIONS!</text>
<text class="bn" font-size="16" x="173" y="433" textLength="108" lengthAdjust="spacingAndGlyphs">YOU'RE ALIVE.</text>
<text class="r" font-size="15.5"><tspan x="366" y="623">Go back to</tspan><tspan x="366" y="642">step 3</tspan></text>
<text class="r" font-size="15.8"><tspan x="1097" y="988">If necessary, return to oncology or surgery</tspan><tspan x="1097" y="1008">to choose another round of treatment</tspan></text>
<text class="r" font-size="11.8" style="fill:#444"><tspan x="1632" y="897">This illustration is intend</tspan><tspan x="1632" y="914">portray the long and ard</tspan><tspan x="1632" y="931">cancer patients as they f</tspan><tspan x="1632" y="948">lives. It cannot be consid</tspan><tspan x="1632" y="965">or accurate for every typ</tspan><tspan x="1632" y="980">because there are hundr</tspan><tspan x="1632" y="996">patient—because there a</tspan><tspan x="1632" y="1010">of thousands in Canada.</tspan></text>
</g>
</svg>
